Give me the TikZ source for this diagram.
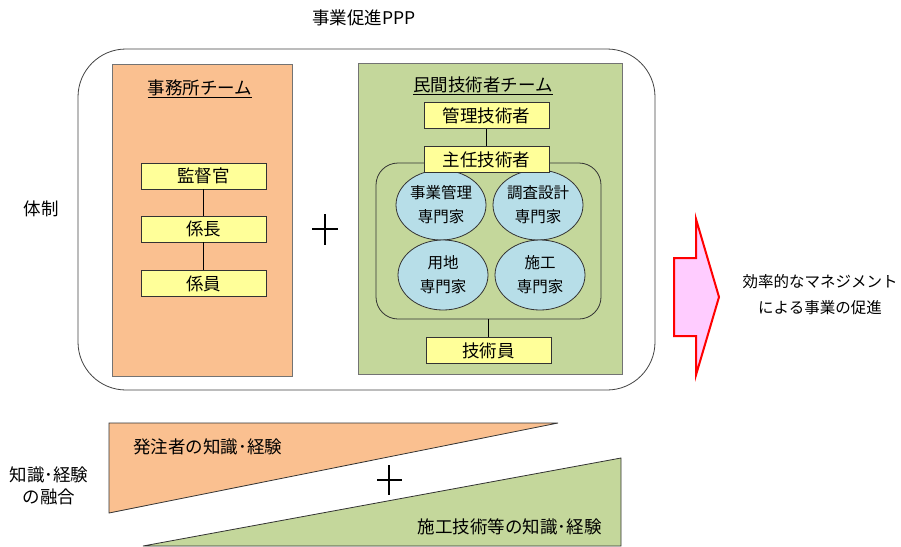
\documentclass[tikz,border=0pt]{standalone}
\usepackage{fontspec}
\setmainfont{Noto Sans CJK JP}
\usepackage{xcolor}
\usetikzlibrary{arrows,positioning,shapes.geometric}
\definecolor{orangefill}{HTML}{FAC090}
\definecolor{greenfill}{HTML}{C4D79B}
\definecolor{yellowfill}{HTML}{FFFF99}
\definecolor{bluefill}{HTML}{B7DEE8}
\definecolor{pinkfill}{HTML}{FFCCFF}

\begin{document}
\begin{tikzpicture}[x=1pt, y=-1pt, line width=0.8pt,
  teambox/.style={draw=black!55, minimum width=180pt, minimum height=312pt, inner sep=0pt},
  yakubox/.style={draw=black!80, fill=yellowfill, minimum width=125pt, minimum height=26pt, inner sep=0pt, font=\fontsize{17.5}{17.5}\selectfont},
  senmon/.style={ellipse, draw=black!80, fill=bluefill, minimum width=90pt, minimum height=70pt, inner sep=0pt, align=center, font=\fontsize{15.5}{24}\selectfont},
  moji/.style={font=\fontsize{17.5}{22}\selectfont, inner sep=0pt, align=center}]
\useasboundingbox (0,0) rectangle (901,546);
% 体制の枠
\draw [black!75, rounded corners=48pt] (78,49) rectangle (655,390);
\node [moji] (ppp) at (364,18) {事業促進PPP};
\node [moji] (taisei) at (41,209) {体制};
% 事務所チーム
\node [teambox, fill=orangefill] (jimusho) at (202,220) {};
\node [moji] (jimushoname) at (200,89) {\underline{事務所チーム}};
\node [yakubox] (kantoku) at (203.5,176) {監督官};
\node [yakubox] (kakaricho) at (203.5,229) {係長};
\node [yakubox] (kakariin) at (203.5,283.5) {係員};
\draw (kantoku) -- (kakaricho);
\draw (kakaricho) -- (kakariin);
% プラス
\draw [line width=1.6pt] (312,229) -- (338,229);
\draw [line width=1.6pt] (325,214) -- (325,245);
% 民間技術者チーム
\node [teambox, fill=greenfill, minimum width=264pt, minimum height=311pt] (minkan) at (490,218.5) {};
\node [moji] (minkanname) at (483,86) {\underline{民間技術者チーム}};
\node [yakubox] (kanri) at (486.5,115.5) {管理技術者};
\node [draw=black!80, rounded corners=22pt, minimum width=225pt, minimum height=156pt, inner sep=0pt] (senmonzu) at (488.5,241) {};
\node [senmon] (jigyo) at (441,205) {事業管理\\専門家};
\node [senmon] (chosa) at (538,205) {調査設計\\専門家};
\node [senmon] (yochi) at (443,275) {用地\\専門家};
\node [senmon] (seko) at (540,275) {施工\\専門家};
\node [yakubox] (shunin) at (486.5,159.5) {主任技術者};
\node [yakubox] (gijutsuin) at (488.5,350.5) {技術員};
\draw (kanri) -- (shunin);
\draw (senmonzu) -- (gijutsuin);
% 矢印
\draw [red, line width=2pt, fill=pinkfill, line join=miter] (674,258) -- (696,258) -- (696,219) -- (719,297) -- (696,375) -- (696,336) -- (674,336) -- cycle;
\node [moji, font=\fontsize{15.5}{26}\selectfont] (kouka) at (820,295) {効率的なマネジメント\\による事業の促進};
% 知識・経験
\node [moji] (yugo) at (49,486) {知識･経験\\の融合};
\draw [black!80, fill=orangefill] (109,423) -- (558,423) -- (109,513) -- cycle;
\draw [black!80, fill=greenfill] (143,546) -- (621,458) -- (621,546) -- cycle;
\node [moji, anchor=west] (hatchusha) at (133,447) {発注者の知識･経験};
\node [moji, anchor=east] (sekogijutsu) at (602,527) {施工技術等の知識･経験};
\draw [line width=1.6pt] (377,480) -- (402,480);
\draw [line width=1.6pt] (389,465) -- (389,495);
\end{tikzpicture}
\end{document}
